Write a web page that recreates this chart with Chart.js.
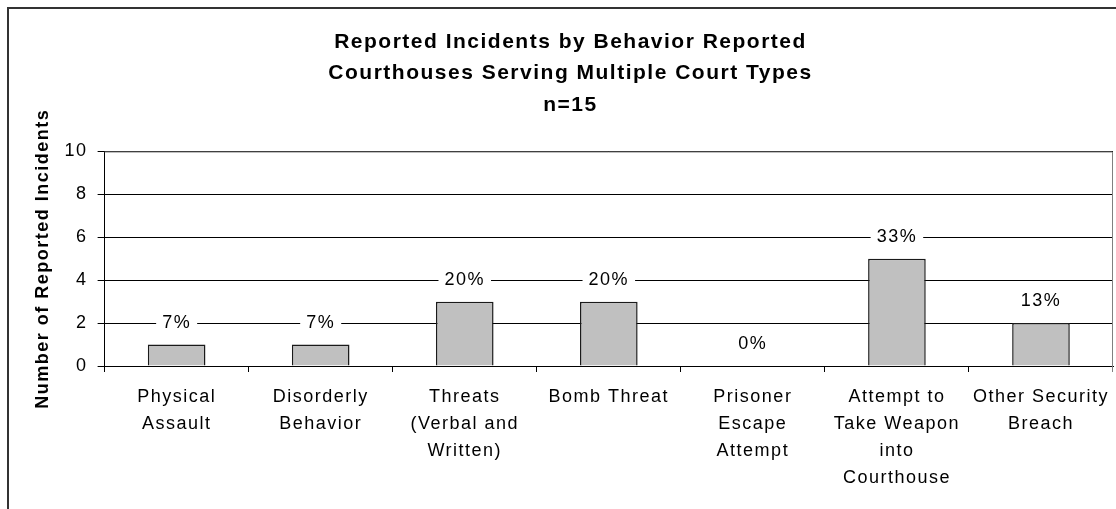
<!DOCTYPE html>
<html>
<head>
  <title>Reported Incidents by Behavior</title>
  <script src="https://cdn.jsdelivr.net/npm/chart.js"></script>
  <style>
    body { margin: 0; background: #fff; }
  </style>
</head>
<body>
  <canvas id="barChart" width="1116" height="509"></canvas>

  <script>
    // data
    const titleLines = [
      'Reported Incidents by Behavior Reported',
      'Courthouses Serving Multiple Court Types',
      'n=15'
    ];
    const categories = [
      ['Physical', 'Assault'],
      ['Disorderly', 'Behavior'],
      ['Threats', '(Verbal and', 'Written)'],
      ['Bomb Threat'],
      ['Prisoner', 'Escape', 'Attempt'],
      ['Attempt to', 'Take Weapon', 'into', 'Courthouse'],
      ['Other Security', 'Breach']
    ];
    const incidents = [1, 1, 3, 3, 0, 5, 2];
    const percentLabels = ['7%', '7%', '20%', '20%', '0%', '33%', '13%'];
    const yTitle = 'Number of Reported Incidents';

    const FONT = '"Liberation Sans", Arial, sans-serif';

    // outer frame + plot area border, and the wide text spacing of the original
    const framePlugin = {
      id: 'frame',
      beforeUpdate(chart) {
        chart.ctx.letterSpacing = '1.5px';
      },
      beforeDraw(chart) {
        const ctx = chart.ctx;
        ctx.save();
        ctx.fillStyle = '#fff';
        ctx.fillRect(0, 0, chart.width, chart.height);
        ctx.strokeStyle = '#333';
        ctx.lineWidth = 2;
        ctx.beginPath();
        ctx.moveTo(8, chart.height);
        ctx.lineTo(8, 8);
        ctx.lineTo(chart.width, 8);
        ctx.stroke();
        ctx.restore();
      },
      beforeDatasetsDraw(chart) {
        const a = chart.chartArea;
        const ctx = chart.ctx;
        ctx.save();
        ctx.strokeStyle = '#808080';
        ctx.lineWidth = 1;
        ctx.beginPath();
        ctx.moveTo(a.left, a.top + 0.5);
        ctx.lineTo(a.right - 0.5, a.top + 0.5);
        ctx.lineTo(a.right - 0.5, a.bottom + 6);
        ctx.stroke();
        ctx.restore();
      }
    };

    // percentage labels above each bar, on a white box
    const percentPlugin = {
      id: 'percent',
      afterDatasetsDraw(chart) {
        const ctx = chart.ctx;
        const meta = chart.getDatasetMeta(0);
        ctx.save();
        ctx.font = '18px ' + FONT;
        ctx.textAlign = 'center';
        ctx.textBaseline = 'middle';
        meta.data.forEach((bar, i) => {
          const text = percentLabels[i];
          const w = ctx.measureText(text).width;
          const y = bar.y - 22;
          ctx.fillStyle = '#fff';
          ctx.fillRect(bar.x - w / 2 - 6, y - 10, w + 12, 20);
          ctx.fillStyle = '#000';
          ctx.fillText(text, bar.x, y);
        });
        ctx.restore();
      }
    };

    new Chart(document.getElementById('barChart'), {
      type: 'bar',
      data: {
        labels: categories,
        datasets: [{
          label: 'Incidents',
          data: incidents,
          backgroundColor: '#c0c0c0',
          borderColor: '#1a1a1a',
          borderWidth: 1.5,
          barPercentage: 0.4,
          categoryPercentage: 1
        }]
      },
      options: {
        responsive: false,
        animation: false,
        layout: {
          padding: { left: 28, right: 3, top: 0, bottom: 5 }
        },
        plugins: {
          legend: { display: false },
          tooltip: { enabled: false },
          title: {
            display: true,
            text: titleLines,
            color: '#000',
            font: { family: FONT, size: 21, weight: 'bold', lineHeight: 1.5 },
            padding: { top: 26, bottom: 31 }
          }
        },
        scales: {
          x: {
            // the last label fits inside its category, no extra right gap
            afterFit(scale) {
              scale.paddingRight = 0;
            },
            grid: {
              drawOnChartArea: false,
              color: '#000',
              tickLength: 6
            },
            border: { color: '#000', width: 1 },
            ticks: {
              color: '#000',
              font: { family: FONT, size: 18, lineHeight: 1.5 },
              padding: 12,
              maxRotation: 0,
              autoSkip: false
            }
          },
          y: {
            min: 0,
            max: 10,
            ticks: {
              stepSize: 2,
              color: '#000',
              font: { family: FONT, size: 18 },
              padding: 10
            },
            grid: {
              color: '#000',
              lineWidth: 1,
              tickLength: 7
            },
            border: { color: '#000', width: 1 },
            title: {
              display: true,
              text: yTitle,
              color: '#000',
              font: { family: FONT, size: 18, weight: 'bold' },
              padding: { top: 4, bottom: 1 }
            }
          }
        }
      },
      plugins: [framePlugin, percentPlugin]
    });
  </script>
</body>
</html>
